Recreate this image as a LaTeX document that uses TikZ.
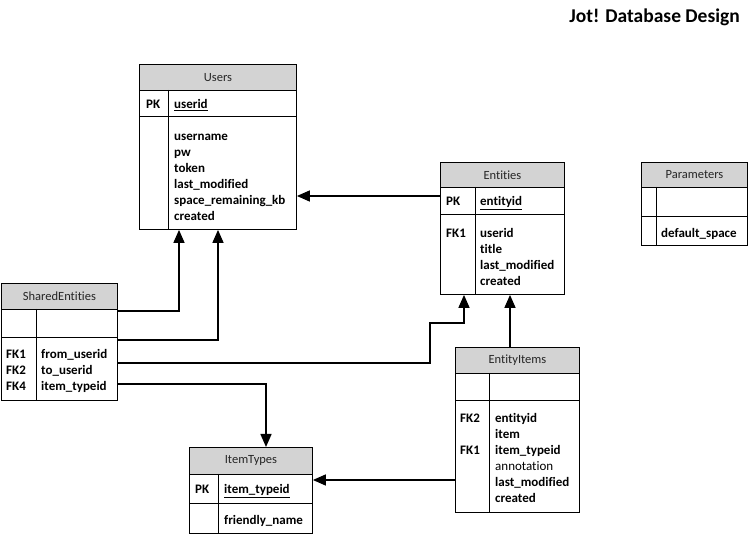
\documentclass[tikz,border=0pt]{standalone}
\usepackage{fontspec}
\setmainfont{Carlito}[Ligatures=NoCommon]
\usetikzlibrary{arrows.meta,calc}
\definecolor{hdrgray}{HTML}{D3D3D3}
\newcommand{\fieldlist}[4]{%
  \foreach [count=\i] \t in {#4} \node[txt] (#1\i) at (#2,{#3+16*(\i-1)}) {\t};}
\begin{document}
\begin{tikzpicture}[x=1pt,y=-1pt,
  hdr/.style={draw, fill=hdrgray, inner sep=0, anchor=north west, line width=0.9pt,
    font=\fontsize{12.5}{14}\selectfont, text=black!85},
  cell/.style={draw, fill=white, inner sep=0, anchor=north west, line width=0.9pt},
  divline/.style={line width=0.9pt},
  txt/.style={inner sep=0, anchor=base west, yshift=-2pt, font=\fontsize{13}{15}\selectfont\bfseries},
  fk/.style={line width=1.5pt, -{Triangle[length=13pt,width=11pt]}}]
\useasboundingbox (0,0) rectangle (748,534);
\fill[white] (0,0) rectangle (748,534);

\node[font=\fontsize{19.5}{22}\selectfont\bfseries, anchor=base east, inner sep=0] (title) at (740,23) {Jot! Database Design};

% Users
\node[cell, minimum width=157, minimum height=113] (usersB) at (139,116) {};
\node[cell, minimum width=157, minimum height=26] (usersPK) at (139,90) {};
\node[hdr, minimum width=157, minimum height=26] (usersH) at (139,64) {Users};
\draw[divline] ($(usersPK.north west)+(29,0)$) -- ($(usersB.south west)+(29,0)$);
\node[txt] (usersPKl) at (146,107) {PK};
\node[txt] (usersPKf) at (174,107) {\underline{userid}};
\fieldlist{usersF}{174}{139}{username,pw,token,last\_modified,space\_remaining\_kb,created}

% Entities
\node[cell, minimum width=124, minimum height=80] (entB) at (440,214) {};
\node[cell, minimum width=124, minimum height=27] (entPK) at (440,187) {};
\node[hdr, minimum width=124, minimum height=25] (entH) at (440,162) {Entities};
\draw[divline] ($(entPK.north west)+(35,0)$) -- ($(entB.south west)+(35,0)$);
\node[txt] (entPKl) at (446,204) {PK};
\node[txt] (entPKf) at (480,204) {\underline{entityid}};
\node[txt] (entFK1) at (446,236) {FK1};
\fieldlist{entF}{480}{236}{userid,title,last\_modified,created}

% Parameters
\node[cell, minimum width=106, minimum height=29] (parB) at (641,216) {};
\node[cell, minimum width=106, minimum height=29] (parPK) at (641,187) {};
\node[hdr, minimum width=106, minimum height=25] (parH) at (641,162) {Parameters};
\draw[divline] ($(parPK.north west)+(15,0)$) -- ($(parB.south west)+(15,0)$);
\node[txt] (parF) at (661,236) {default\_space};

% SharedEntities
\node[cell, minimum width=116, minimum height=63] (seB) at (1,337) {};
\node[cell, minimum width=116, minimum height=28] (sePK) at (1,309) {};
\node[hdr, minimum width=116, minimum height=26] (seH) at (1,283) {SharedEntities};
\draw[divline] ($(sePK.north west)+(35,0)$) -- ($(seB.south west)+(35,0)$);
\fieldlist{seK}{6}{357}{FK1,FK2,FK4}
\fieldlist{seF}{41}{357}{from\_userid,to\_userid,item\_typeid}

% EntityItems
\node[cell, minimum width=124, minimum height=112] (eiB) at (455,400) {};
\node[cell, minimum width=124, minimum height=27] (eiPK) at (455,373) {};
\node[hdr, minimum width=124, minimum height=26] (eiH) at (455,347) {EntityItems};
\draw[divline] ($(eiPK.north west)+(34,0)$) -- ($(eiB.south west)+(34,0)$);
\node[txt] (eiK1) at (460,421) {FK2};
\node[txt] (eiK2) at (460,453) {FK1};
\fieldlist{eiF}{495}{421}{entityid,item,item\_typeid,{\mdseries annotation},last\_modified,created}

% ItemTypes
\node[cell, minimum width=123, minimum height=30] (itB) at (189,503) {};
\node[cell, minimum width=123, minimum height=29] (itPK) at (189,474) {};
\node[hdr, minimum width=123, minimum height=27] (itH) at (189,447) {ItemTypes};
\draw[divline] ($(itPK.north west)+(29,0)$) -- ($(itB.south west)+(29,0)$);
\node[txt] (itPKl) at (195,492) {PK};
\node[txt] (itPKf) at (224,492) {\underline{item\_typeid}};
\node[txt] (itF) at (224,523) {friendly\_name};

% connectors
\draw[fk] ($(sePK.north east)+(0,2)$) -| ($(usersB.south west)+(40,0)$);
\draw[fk] ($(seB.north east)+(0,3)$) -| ($(usersB.south west)+(79,0)$);
\draw[fk] ($(seB.north east)+(0,26)$) -| ($(entB.south west)+(-10,28)$) -| ($(entB.south west)+(24,0)$);
\draw[fk] ($(seB.north east)+(0,47)$) -| ($(itH.north west)+(77,0)$);
\draw[fk] ($(entPK.north west)+(0,9)$) -- ($(usersB.north east)+(0,80)$);
\draw[fk] ($(eiH.north west)+(55,0)$) -- ($(entB.south west)+(70,0)$);
\draw[fk] ($(eiB.north west)+(0,80)$) -- ($(itPK.north east)+(0,6)$);
\end{tikzpicture}
\end{document}
